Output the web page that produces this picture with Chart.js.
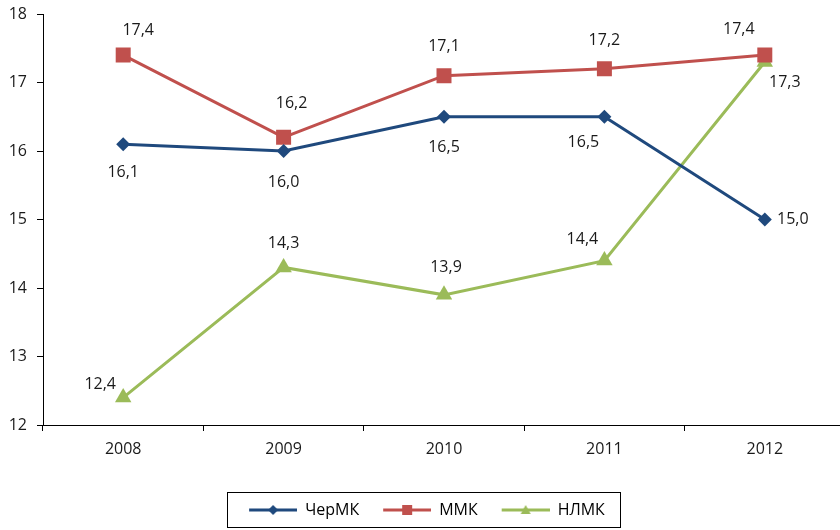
<!DOCTYPE html>
<html>
<head>
<meta charset="utf-8">
<script src="https://cdn.jsdelivr.net/npm/chart.js@4/dist/chart.umd.min.js"></script>
<style>
  html, body { margin: 0; padding: 0; background: #fff; }
  #wrap { width: 840px; height: 530px; }
</style>
</head>
<body>
<div id="wrap"><canvas id="chart" width="840" height="530"></canvas></div>
<script>
// ── Data ──────────────────────────────────────────────────────────────────────
const years  = ['2008', '2009', '2010', '2011', '2012'];
const cherMK = [16.1, 16.0, 16.5, 16.5, 15.0];
const mmk    = [17.4, 16.2, 17.1, 17.2, 17.4];
const nlmk   = [12.4, 14.3, 13.9, 14.4, 17.3];
const yTicks = [12, 13, 14, 15, 16, 17, 18];

const FONT = "'Open Sans', 'DejaVu Sans', sans-serif";
const BLUE = '#1F497D', RED = '#C0504D', GREEN = '#9BBB59';

// legend symbol: line with marker in the middle
function legendSymbol(color, shape) {
  const c = document.createElement('canvas');
  c.width = 62; c.height = 16;
  const g = c.getContext('2d');
  g.strokeStyle = color; g.fillStyle = color; g.lineWidth = 3;
  g.beginPath(); g.moveTo(14, 8); g.lineTo(62, 8); g.stroke();
  const cx = 38, cy = 8;
  g.beginPath();
  if (shape === 'diamond') {
    g.moveTo(cx - 5, cy); g.lineTo(cx, cy - 5); g.lineTo(cx + 5, cy); g.lineTo(cx, cy + 5);
  } else if (shape === 'square') {
    g.rect(cx - 5, cy - 5, 10, 10);
  } else {
    g.moveTo(cx, cy - 5); g.lineTo(cx + 5, cy + 4); g.lineTo(cx - 5, cy + 4);
  }
  g.closePath(); g.fill();
  return c;
}

const fmt = v => v.toFixed(1).replace('.', ',');

// value labels next to each point
const valueLabels = {
  id: 'valueLabels',
  afterDatasetsDraw(chart) {
    const ctx = chart.ctx;
    ctx.save();
    ctx.font = `16px ${FONT}`;
    ctx.fillStyle = '#1a1a1a';
    ctx.textAlign = 'center';
    ctx.textBaseline = 'middle';
    chart.data.datasets.forEach((ds, di) => {
      const meta = chart.getDatasetMeta(di);
      meta.data.forEach((pt, i) => {
        const [dx, dy] = ds.labelOffsets[i];
        ctx.fillText(fmt(ds.data[i]), pt.x + dx, pt.y + dy);
      });
    });
    ctx.restore();
  }
};

// border round the legend items
const legendFrame = {
  id: 'legendFrame',
  afterDraw(chart) {
    const lg = chart.legend;
    if (!lg || !lg.legendHitBoxes.length) return;
    const boxes = lg.legendHitBoxes;
    const left  = Math.min(...boxes.map(b => b.left)) + 14 - 22;
    const right = Math.max(...boxes.map(b => b.left + b.width)) + 15;
    const ctx = chart.ctx;
    ctx.save();
    ctx.strokeStyle = '#000';
    ctx.lineWidth = 1;
    ctx.strokeRect(Math.round(left) + 0.5, Math.round(lg.top) + 0.5,
                   Math.round(right - left), Math.round(lg.bottom - lg.top) - 1);
    ctx.restore();
  }
};

// plot area runs a few px past the right edge of the canvas (as in the source)
const bleedRight = {
  id: 'bleedRight',
  afterLayout(chart) {
    const x = chart.scales.x;
    x.right += 5;
    x.width = x.right - x.left;
    x.configure();
    chart.chartArea.right = x.right;
    chart.chartArea.width = x.width;
  }
};

const noPad = s => { s.paddingLeft = 0; s.paddingRight = 0; s.paddingTop = 0; s.paddingBottom = 0; };

const symbols = [legendSymbol(BLUE, 'diamond'), legendSymbol(RED, 'square'), legendSymbol(GREEN, 'triangle')];

new Chart(document.getElementById('chart'), {
  type: 'line',
  data: {
    labels: years,
    datasets: [
      {
        label: 'ЧерМК', data: cherMK,
        borderColor: BLUE, backgroundColor: BLUE, borderWidth: 3,
        pointStyle: 'rectRot', pointRadius: 7, pointBorderWidth: 0,
        labelOffsets: [[0, 28], [0, 31], [0, 31], [-21, 26], [28, 0]]
      },
      {
        label: 'ММК', data: mmk,
        borderColor: RED, backgroundColor: RED, borderWidth: 3,
        pointStyle: 'rect', pointRadius: 10.6, pointBorderWidth: 0,
        labelOffsets: [[15, -25], [8, -34], [0, -29], [0, -28], [-26, -26]]
      },
      {
        label: 'НЛМК', data: nlmk,
        borderColor: GREEN, backgroundColor: GREEN, borderWidth: 3,
        pointStyle: 'triangle', pointRadius: 9.5, pointBorderWidth: 0,
        labelOffsets: [[-23, -13], [0, -24], [2, -27], [-22, -21], [20, 20]]
      }
    ]
  },
  options: {
    responsive: false, animation: false,
    layout: { autoPadding: false, padding: { top: 14, right: 0, bottom: 2, left: 0 } },
    elements: { line: { tension: 0 } },
    plugins: {
      tooltip: { enabled: false },
      legend: {
        position: 'bottom',
        labels: {
          font: { family: FONT, size: 16 }, color: '#000',
          usePointStyle: true, pointStyleWidth: 62, padding: 10,
          generateLabels: chart => chart.data.datasets.map((ds, i) => ({
            text: ds.label, pointStyle: symbols[i], datasetIndex: i,
            fillStyle: ds.borderColor, strokeStyle: ds.borderColor, lineWidth: 0, hidden: false
          }))
        }
      }
    },
    scales: {
      x: {
        offset: true,
        grid: { display: true, drawOnChartArea: false, offset: true, tickLength: 6, color: '#000' },
        border: { display: true, color: '#000', width: 1 },
        ticks: { font: { family: FONT, size: 16 }, color: '#1a1a1a', padding: 9, maxRotation: 0 },
        afterFit: s => { s.height = 67; noPad(s); }
      },
      y: {
        min: yTicks[0], max: yTicks[yTicks.length - 1],
        afterBuildTicks: s => { s.ticks = yTicks.map(v => ({ value: v })); },
        grid: { display: true, drawOnChartArea: false, tickLength: 6, color: '#000' },
        border: { display: true, color: '#000', width: 1 },
        ticks: { font: { family: FONT, size: 16 }, color: '#1a1a1a', padding: 10 },
        afterFit: s => { s.width = 43; noPad(s); }
      }
    }
  },
  plugins: [valueLabels, legendFrame, bleedRight]
});
</script>
</body>
</html>
